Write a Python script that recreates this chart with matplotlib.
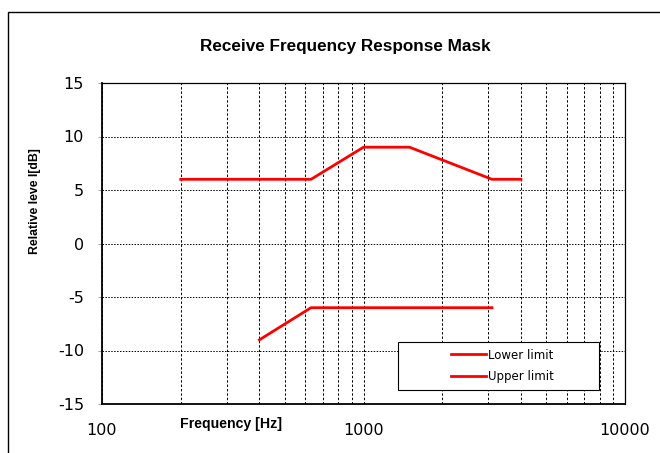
import matplotlib
matplotlib.use("Agg")
import matplotlib.pyplot as plt
from matplotlib.patches import Rectangle
from matplotlib.ticker import FixedLocator, NullFormatter, LogLocator

plt.rcParams["axes.unicode_minus"] = False

# mask data
upper_freq = [200, 630, 1000, 1500, 3100, 4000]
upper_db = [6, 6, 9, 9, 6, 6]
lower_freq = [400, 630, 3100]
lower_db = [-9, -6, -6]

x_ticks = [100, 1000, 10000]
x_ticklabels = ["100", "1000", "10000"]
y_ticks = [-15, -10, -5, 0, 5, 10, 15]

fig = plt.figure(figsize=(6.6, 4.53), dpi=100)
W, H = 660.0, 453.0

# outer chart frame
fig.patches.append(Rectangle((8 / W, -0.05), 1.0, 1 - 12 / H + 0.05,
                             transform=fig.transFigure, fill=False,
                             edgecolor="black", linewidth=1.0))

ax = fig.add_axes([102 / W, 1 - 404 / H, (625 - 102) / W, (404 - 83) / H])

ax.plot(lower_freq, lower_db, color="#ff0000", linewidth=2.0, label="Lower limit")
ax.plot(upper_freq, upper_db, color="#ff0000", linewidth=2.0, label="Upper limit")

ax.set_xscale("log")
ax.set_xlim(100, 10000)
ax.set_ylim(-15, 15)
ax.xaxis.set_major_locator(FixedLocator(x_ticks))
ax.set_xticklabels(x_ticklabels)
ax.xaxis.set_minor_locator(LogLocator(base=10, subs=range(2, 10)))
ax.xaxis.set_minor_formatter(NullFormatter())
ax.set_yticks(y_ticks)

ax.grid(True, which="both", axis="x", color="black", linewidth=0.7, linestyle=(0, (2.5, 2)))
ax.grid(True, which="major", axis="y", color="black", linewidth=0.7, linestyle=(0, (1.5, 1.5)))
ax.set_axisbelow(True)

ax.tick_params(axis="x", which="both", length=0, pad=14, labelsize=11.5)
ax.tick_params(axis="y", length=3, width=0.5, color="gray", pad=10, labelsize=11.5)
for lab in ax.get_xticklabels() + ax.get_yticklabels():
    lab.set_fontfamily("DejaVu Sans")

for s in ["left", "bottom"]:
    ax.spines[s].set_linewidth(1.3)
for s in ["top", "right"]:
    ax.spines[s].set_linewidth(0.9)

fig.text(345 / W, 1 - 47 / H, "Receive Frequency Response Mask", ha="center", va="center",
         fontsize=12.3, fontweight="bold", family="Liberation Sans")
fig.text(231 / W, 1 - 424 / H, "Frequency [Hz]", ha="center", va="center",
         fontsize=10.2, fontweight="bold", family="Liberation Sans")
fig.text(35 / W, 1 - 201 / H, "Relative leve l[dB]", ha="center", va="center", rotation=90,
         fontsize=8.8, fontweight="bold", family="Liberation Sans")

# legend box
ax.add_patch(Rectangle((398 / W, 1 - 390 / H), (599 - 398) / W, (390 - 342) / H,
                       transform=fig.transFigure, facecolor="white", clip_on=False,
                       edgecolor="black", linewidth=0.8, zorder=5))
leg = ax.legend(loc="center left", bbox_to_anchor=(440 / W, 1 - 366 / H),
                bbox_transform=fig.transFigure, frameon=False,
                handlelength=3.0, handletextpad=0.15, labelspacing=0.75,
                prop={"family": "DejaVu Sans", "size": 8.5})
leg.set_zorder(6)

fig.savefig("out.png", dpi=100)
